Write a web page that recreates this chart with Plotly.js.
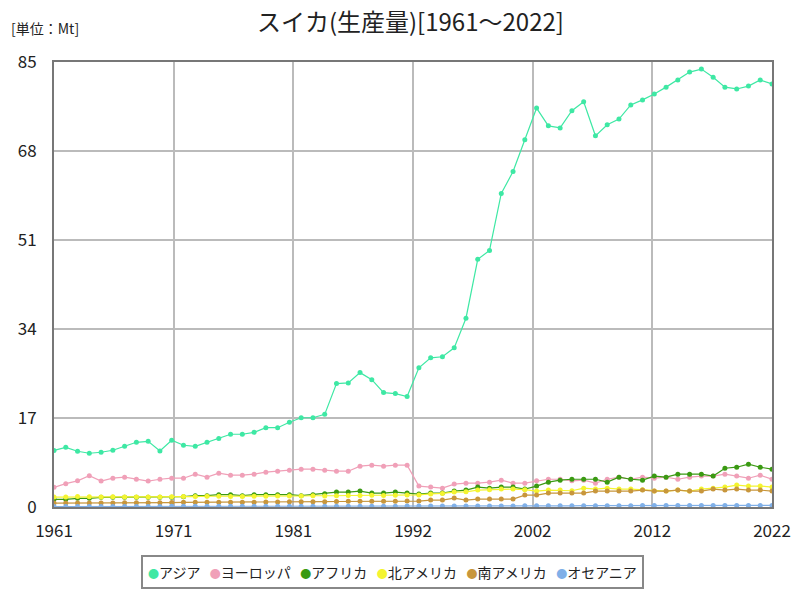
<!DOCTYPE html>
<html>
<head>
<meta charset="utf-8">
<script src="https://cdn.plot.ly/plotly-3.0.1.min.js"></script>
<style>body{margin:0;background:#fff}#chart{width:800px;height:600px}</style>
</head>
<body>
<div id="chart"></div>
<script>
const years = [];
for (let y = 1961; y <= 2022; y++) years.push(y);

const seriesNames = ["アジア", "ヨーロッパ", "アフリカ", "北アメリカ", "南アメリカ", "オセアニア"];
const seriesColors = ["#3ee8a4", "#f0a0b8", "#3a9a12", "#f4f430", "#c8963c", "#80b0e8"];

const asia = [10.8,11.4,10.65,10.27,10.46,10.84,11.6,12.36,12.55,10.7,
  12.74,11.79,11.6,12.36,13.1,13.9,13.9,14.26,15.15,15.15,
  16.2,17.05,17.05,17.7,23.57,23.7,25.67,24.33,21.86,21.67,
  21.1,26.6,28.5,28.7,30.4,36.06,47.3,49.0,59.9,64.07,
  70.15,76.2,72.8,72.4,75.7,77.4,70.9,73.0,74.1,76.8,
  77.76,78.9,80.2,81.56,83.08,83.65,82.1,80.2,79.85,80.4,
  81.56,80.8];
const europe = [3.75,4.45,5.0,5.97,4.95,5.5,5.7,5.3,4.95,5.3,
  5.5,5.5,6.27,5.7,6.46,6.08,6.08,6.27,6.65,6.84,
  7.03,7.22,7.22,7.03,6.84,6.84,7.8,7.98,7.8,7.98,
  7.98,4.0,3.8,3.6,4.37,4.56,4.56,4.75,5.13,4.56,
  4.56,5.0,5.3,5.3,5.0,5.13,4.56,5.3,5.7,5.3,
  5.7,5.5,5.7,5.3,5.7,5.9,5.9,6.27,5.9,5.5,
  6.08,5.3];
const africa = [1.46,1.46,1.65,1.65,1.84,1.84,1.84,1.84,1.84,1.84,
  1.84,1.97,2.17,2.17,2.36,2.36,2.17,2.36,2.36,2.36,
  2.36,2.17,2.36,2.55,2.85,2.85,3.04,2.66,2.66,2.85,
  2.66,2.47,2.66,2.66,3.04,3.23,3.8,3.6,3.8,3.8,
  3.42,4.0,4.75,5.13,5.3,5.3,5.3,4.75,5.7,5.3,
  5.13,5.9,5.7,6.27,6.27,6.27,5.9,7.4,7.6,8.17,
  7.6,7.22];
const northAmerica = [1.9,1.9,2.0,1.95,1.9,1.95,1.9,1.9,1.9,1.9,
  1.95,2.0,2.0,2.05,2.05,2.0,2.0,2.05,2.05,2.1,
  2.1,2.1,2.15,2.1,2.15,2.2,2.2,2.25,2.2,2.25,
  2.28,2.3,2.5,2.6,2.85,2.9,3.23,3.3,3.42,3.42,
  3.3,3.04,3.23,3.23,3.1,3.6,3.42,3.6,3.42,3.42,
  3.3,3.04,3.04,3.23,3.04,3.42,3.6,3.8,4.18,4.0,
  4.0,3.8];
const southAmerica = [0.75,0.75,0.75,0.75,0.75,0.78,0.8,0.8,0.8,0.8,
  0.85,0.9,0.9,0.9,0.9,0.9,0.9,0.92,0.95,0.95,
  0.98,1.0,1.0,1.02,1.05,1.08,1.08,1.1,1.1,1.12,
  1.14,1.14,1.33,1.33,1.71,1.33,1.52,1.52,1.52,1.52,
  2.28,2.28,2.66,2.66,2.66,2.66,3.04,3.04,3.04,3.04,
  3.23,3.04,3.04,3.23,3.04,3.04,3.42,3.23,3.42,3.23,
  3.23,3.04];
const oceania = [0.1,0.1,0.1,0.1,0.1,0.1,0.1,0.1,0.1,0.1,
  0.12,0.12,0.12,0.12,0.12,0.12,0.12,0.12,0.12,0.12,
  0.15,0.15,0.15,0.15,0.15,0.15,0.15,0.15,0.15,0.15,
  0.18,0.18,0.18,0.18,0.18,0.2,0.2,0.2,0.2,0.2,
  0.22,0.22,0.22,0.22,0.22,0.25,0.25,0.25,0.25,0.25,
  0.3,0.3,0.3,0.3,0.3,0.3,0.3,0.3,0.3,0.3,
  0.3,0.3];

const tickLabels = ["1961","1971","1981","1992","2002","2012","2022"];
const yTicks = [0,17,34,51,68,85];

const allSeries = [asia, europe, africa, northAmerica, southAmerica, oceania];
const tickPositions = tickLabels.map((_, i) => 1961 + i * (2022 - 1961) / (tickLabels.length - 1));

const tickFam = "'Liberation Sans Narrow', 'Noto Sans CJK JP', sans-serif";
const jpFam = "'Noto Sans CJK JP', sans-serif";

const traces = allSeries.map((vals, i) => ({
  x: years, y: vals, name: seriesNames[i], type: "scatter", mode: "lines+markers",
  line: {color: seriesColors[i], width: 1.2},
  marker: {color: seriesColors[i], size: 5},
  showlegend: false
}));

// legend built from series names/colours
const sp = "\u00a0\u00a0\u00a0";
const legendText = seriesNames.map((n, i) =>
  `<span style="color:${seriesColors[i]};font-size:11px">●</span>${n}`).join(sp);

const layout = {
  width: 800, height: 600,
  margin: {l: 54, r: 28, t: 62, b: 92.5, autoexpand: false},
  paper_bgcolor: "#fff", plot_bgcolor: "#fff",
  font: {family: jpFam, color: "#222"},
  title: {text: "スイカ(生産量)[1961～2022]", x: 0.513, xanchor: "center", y: 0.963, yanchor: "middle",
    font: {size: 24, family: jpFam, color: "#222"}},
  annotations: [
    {text: "[単位：Mt]", xref: "paper", yref: "paper", x: -0.062, xanchor: "left",
     y: 1.076, yanchor: "middle", showarrow: false, font: {size: 14, family: jpFam, color: "#222"}},
    {text: legendText, xref: "paper", yref: "paper", x: 0.472, xanchor: "center",
     y: -0.147, yanchor: "middle", showarrow: false,
     bordercolor: "#888", borderwidth: 2, borderpad: 5, bgcolor: "#fff",
     font: {size: 14, family: jpFam, color: "#222"}}
  ],
  xaxis: {range: [1961, 2022], tickmode: "array", tickvals: tickPositions, ticktext: tickLabels,
    showgrid: true, gridcolor: "#bbbbbb", gridwidth: 2, zeroline: false,
    showline: true, linecolor: "#777", linewidth: 2, mirror: true,
    ticks: "", ticklabelstandoff: 8, tickfont: {size: 17, family: tickFam, color: "#222"}},
  yaxis: {range: [0, 85], tickmode: "array", tickvals: yTicks,
    showgrid: true, gridcolor: "#bbbbbb", gridwidth: 2, zeroline: false,
    showline: true, linecolor: "#777", linewidth: 2, mirror: true,
    ticks: "", ticklabelstandoff: 12, tickfont: {size: 17, family: tickFam, color: "#222"}},
  showlegend: false
};

Plotly.newPlot("chart", traces, layout, {displayModeBar: false, staticPlot: true});
</script>
</body>
</html>
